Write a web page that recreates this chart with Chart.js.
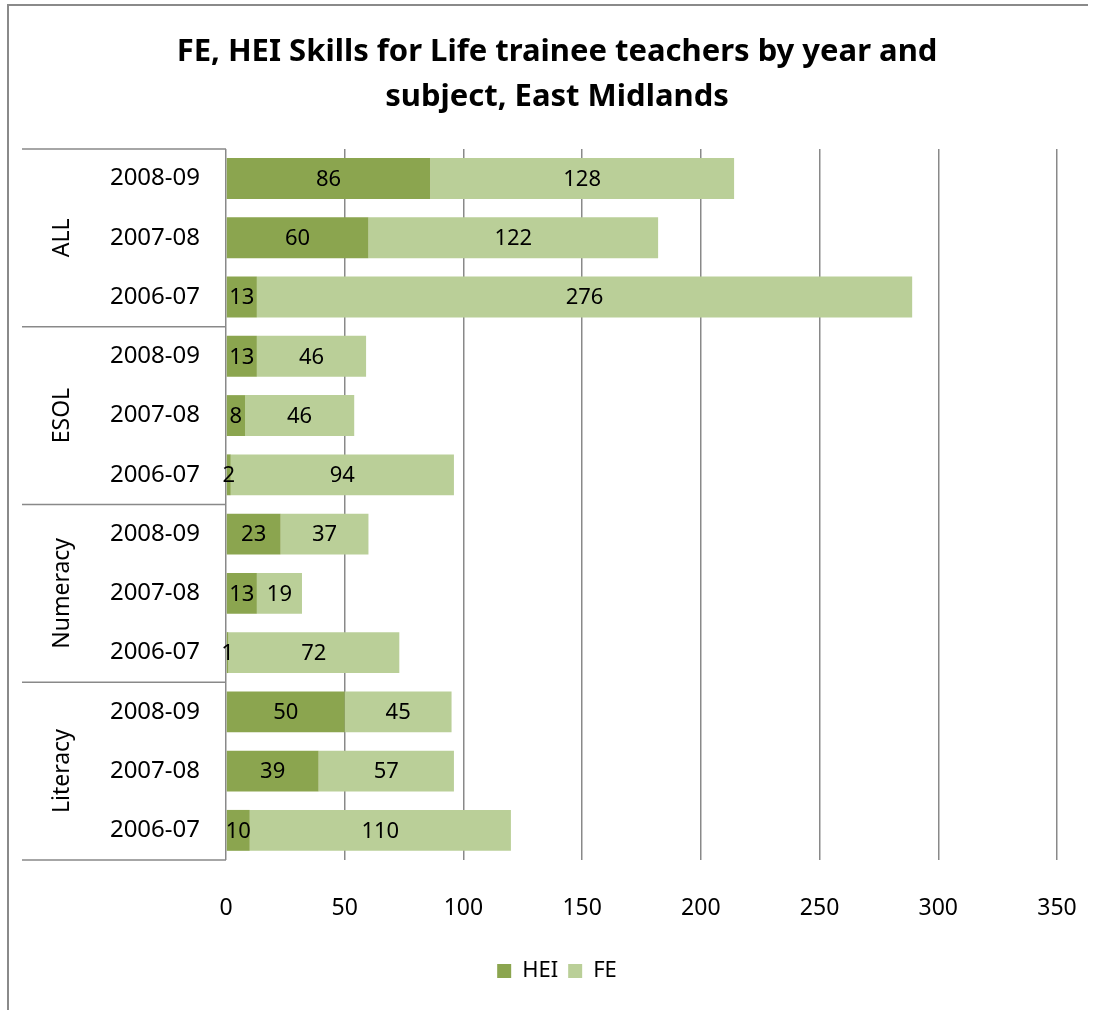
<!DOCTYPE html>
<html>
<head>
<meta charset="utf-8">
<script src="https://cdn.jsdelivr.net/npm/chart.js@4"></script>
<style>
  body { margin: 0; background: #fff; }
  #wrap { width: 1094px; height: 1010px; position: relative; }
</style>
</head>
<body>
<div id="wrap"><canvas id="myChart" width="1094" height="1010"></canvas></div>
<script>
// Data
const groups = ['ALL', 'ESOL', 'Numeracy', 'Literacy'];
const years = ['2008-09', '2007-08', '2006-07'];
const heiValues = [86, 60, 13, 13, 8, 2, 23, 13, 1, 50, 39, 10];
const feValues = [128, 122, 276, 46, 46, 94, 37, 19, 72, 45, 57, 110];
const xTicks = [0, 50, 100, 150, 200, 250, 300, 350];

const labels = groups.flatMap(g => years);
const font = "'Noto Sans', sans-serif";
const lineColor = '#898989';

// frame lines (left and top edges of the original chart box)
const framePlugin = {
    id: 'frame',
    beforeDraw(chart) {
        const ctx = chart.ctx;
        ctx.save();
        ctx.strokeStyle = '#8a8a8a';
        ctx.lineWidth = 2;
        ctx.beginPath();
        ctx.moveTo(8, 1010);
        ctx.lineTo(8, 5);
        ctx.lineTo(1088, 5);
        ctx.stroke();
        ctx.restore();
    }
};

// group labels and separators on the left
const groupPlugin = {
    id: 'groupAxis',
    afterDraw(chart) {
        const ctx = chart.ctx;
        const area = chart.chartArea;
        const catH = (area.bottom - area.top) / labels.length;
        ctx.save();
        ctx.strokeStyle = lineColor;
        ctx.lineWidth = 1.5;
        ctx.beginPath();
        ctx.moveTo(22, area.top);
        ctx.lineTo(area.left, area.top);
        groups.forEach((g, i) => {
            const y = area.top + (i + 1) * years.length * catH;
            ctx.moveTo(22, y);
            ctx.lineTo(area.left, y);
        });
        ctx.stroke();

        ctx.fillStyle = '#000';
        ctx.font = '23px ' + font;
        ctx.textAlign = 'center';
        ctx.textBaseline = 'middle';
        groups.forEach((g, i) => {
            const yc = area.top + (i + 0.5) * years.length * catH;
            ctx.save();
            ctx.translate(62, yc);
            ctx.rotate(-Math.PI / 2);
            ctx.fillText(g, 0, 0);
            ctx.restore();
        });
        ctx.restore();
    }
};

// value labels centred in each segment
const valueLabels = {
    id: 'valueLabels',
    afterDatasetsDraw(chart) {
        const ctx = chart.ctx;
        ctx.save();
        ctx.fillStyle = '#000';
        ctx.font = '22px ' + font;
        ctx.textAlign = 'center';
        ctx.textBaseline = 'middle';
        chart.data.datasets.forEach((ds, di) => {
            chart.getDatasetMeta(di).data.forEach((bar, i) => {
                const cx = (bar.x + bar.base) / 2;
                ctx.fillText(ds.data[i], cx, bar.y + 1);
            });
        });
        ctx.restore();
    }
};

var ctx = document.getElementById('myChart').getContext('2d');
var myChart = new Chart(ctx, {
    type: 'bar',
    data: {
        labels: labels,
        datasets: [
            { label: 'HEI', data: heiValues, backgroundColor: '#8ba54f', barPercentage: 0.69, categoryPercentage: 1 },
            { label: 'FE', data: feValues, backgroundColor: '#bacf98', barPercentage: 0.69, categoryPercentage: 1 }
        ]
    },
    plugins: [framePlugin, groupPlugin, valueLabels],
    options: {
        indexAxis: 'y',
        responsive: false,
        animation: false,
        devicePixelRatio: 1,
        layout: { padding: { left: 57, right: 37, top: 0, bottom: 18 } },
        scales: {
            x: {
                stacked: true,
                min: 0,
                max: 350,
                afterBuildTicks(axis) { axis.ticks = xTicks.map(v => ({ value: v })); },
                afterFit(axis) { axis.height = 90; axis.paddingLeft = 0; axis.paddingRight = 0; },
                grid: { color: lineColor, lineWidth: 1.5, drawTicks: false },
                border: { display: false },
                ticks: { color: '#000', font: { family: font, size: 23 }, padding: 35 }
            },
            y: {
                stacked: true,
                afterFit(axis) { axis.width = 226 - 57; },
                grid: { display: false, drawTicks: false },
                border: { display: false },
                ticks: { color: '#000', font: { family: font, size: 24 }, padding: 26, autoSkip: false }
            }
        },
        plugins: {
            title: {
                display: true,
                text: ['FE, HEI Skills for Life trainee teachers by year and', 'subject, East Midlands'],
                color: '#000',
                font: { family: font, size: 31, weight: 'bold', lineHeight: 1.45 },
                padding: { top: 30, bottom: 29 }
            },
            legend: {
                position: 'bottom',
                labels: { color: '#000', font: { family: font, size: 22 }, boxWidth: 14, boxHeight: 14, padding: 10 }
            },
            tooltip: { enabled: false }
        }
    }
});
</script>
</body>
</html>
